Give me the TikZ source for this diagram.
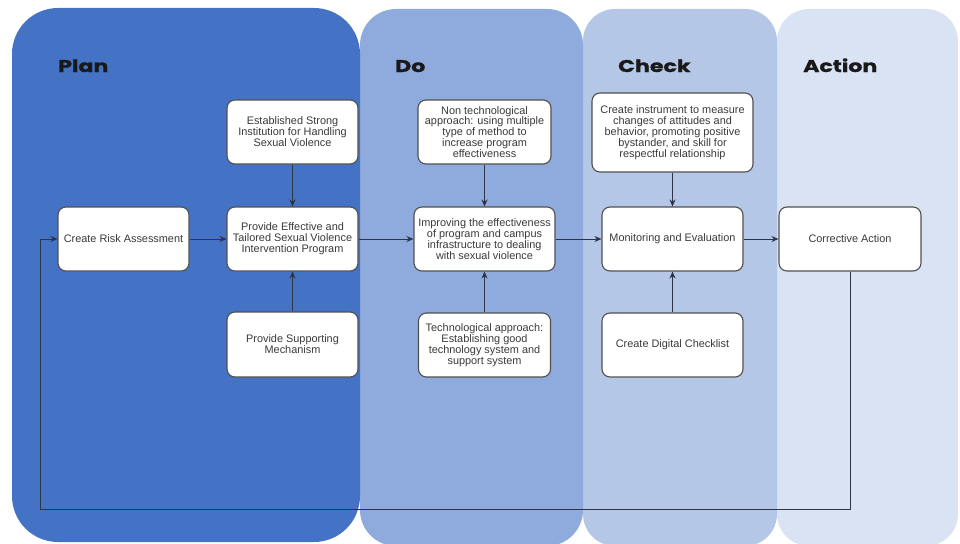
\documentclass[tikz,border=0pt]{standalone}
\usepackage{fontspec}
\setmainfont{Liberation Sans}
\newfontfamily\titlefont{Poppins}[FakeStretch=1.3,FakeBold=1.2]
\usetikzlibrary{arrows.meta}
\definecolor{planc}{HTML}{4472C4}
\definecolor{doc}{HTML}{8FAADC}
\definecolor{checkc}{HTML}{B4C7E7}
\definecolor{actc}{HTML}{DAE3F3}
\definecolor{boxline}{HTML}{505050}
\definecolor{txtc}{HTML}{3A3A3A}
\definecolor{linec}{HTML}{2C3447}
\tikzset{
  box/.style={draw=boxline, fill=white, rounded corners=8pt, line width=1.1pt,
    align=center, text=txtc, inner sep=1pt, font=\fontsize{10.9}{10.9}\selectfont},
  ttl/.style={anchor=base west, text=black!90, inner sep=0pt, font=\titlefont\bfseries\fontsize{17}{17}\selectfont},
  conn/.style={draw=linec, line width=1pt, -{Stealth[length=7pt,width=6pt]}},
}
\begin{document}
\begin{tikzpicture}[x=1pt,y=-1pt]
\useasboundingbox (0,0) rectangle (960,543);
% panels
\fill[actc, rounded corners=32pt] (777,9) rectangle (958,546);
\fill[checkc, rounded corners=32pt] (583,9) rectangle (777,546);
\fill[doc, rounded corners=36pt] (360,9) rectangle (583,546);
\fill[planc, rounded corners=46pt] (12,8) rectangle (360,542);
% titles
\node[ttl] (tplan) at (58,72) {Plan};
\node[ttl] (tdo) at (395,72) {Do};
\node[ttl] (tcheck) at (618,72) {Check};
\node[ttl] (tact) at (803,72) {Action};
% boxes
\node[box, minimum width=131pt, minimum height=64pt] (risk) at (123.5,239) {Create Risk Assessment};
\node[box, minimum width=131pt, minimum height=64pt] (eff) at (292.5,239) {Provide Effective and\\Tailored Sexual Violence\\Intervention Program};
\node[box, minimum width=131pt, minimum height=64pt] (est) at (292.5,132) {Established Strong\\Institution for Handling\\Sexual Violence};
\node[box, minimum width=131pt, minimum height=65pt] (sup) at (292.5,344.5) {Provide Supporting\\Mechanism};
\node[box, minimum width=133pt, minimum height=64pt] (non) at (484.5,132) {Non technological\\approach: using multiple\\type of method to\\increase program\\effectiveness};
\node[box, minimum width=141pt, minimum height=64pt] (imp) at (484.5,239) {Improving the effectiveness\\of program and campus\\infrastructure to dealing\\with sexual violence};
\node[box, minimum width=132pt, minimum height=64pt] (tech) at (484.5,345) {Technological approach:\\Establishing good\\technology system and\\support system};
\node[box, minimum width=161pt, minimum height=79pt] (inst) at (672.5,132.5) {Create instrument to measure\\changes of attitudes and\\behavior, promoting positive\\bystander, and skill for\\respectful relationship};
\node[box, minimum width=141pt, minimum height=64pt] (mon) at (672.5,239) {Monitoring and Evaluation};
\node[box, minimum width=141pt, minimum height=64pt] (dig) at (672.5,345) {Create Digital Checklist};
\node[box, minimum width=142pt, minimum height=64pt] (cor) at (850,239) {Corrective Action};
% connectors
\draw[conn] (risk) -- (eff);
\draw[conn] (est) -- (eff);
\draw[conn] (sup) -- (eff);
\draw[conn] (eff) -- (imp);
\draw[conn] (non) -- (imp);
\draw[conn] (tech) -- (imp);
\draw[conn] (imp) -- (mon);
\draw[conn] (inst) -- (mon);
\draw[conn] (dig) -- (mon);
\draw[conn] (mon) -- (cor);
\coordinate (loopbl) at (40,509);
\draw[conn] (cor.south) |- (loopbl) |- (risk.west);
\end{tikzpicture}
\end{document}
